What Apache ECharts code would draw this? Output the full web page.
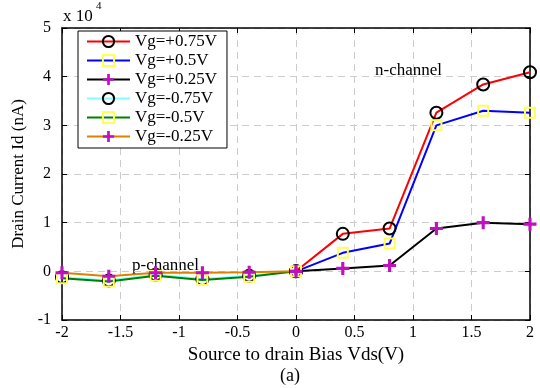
<!DOCTYPE html>
<html>
<head>
<meta charset="utf-8">
<script src="https://cdn.jsdelivr.net/npm/echarts@6/dist/echarts.min.js"></script>
<style>
  html, body { margin: 0; padding: 0; background: #fff; }
  #chart { width: 540px; height: 388px; }
</style>
</head>
<body>
<div id="chart"></div>
<script>
// Vds sweep points (V)
const vdsPos = [0, 0.4, 0.8, 1.2, 1.6, 2.0];
const vdsNeg = [-2.0, -1.6, -1.2, -0.8, -0.4, 0];

// drain current Id (nA)
const idP075 = [0, 7700, 8800, 32600, 38400, 40900];
const idP050 = [0, 3800, 5700, 30000, 33000, 32600];
const idP025 = [0, 600, 1200, 8800, 10000, 9700];
const idN075 = [-1200, -1900, -700, -1600, -900, 0];
const idN050 = [-1400, -2100, -900, -1800, -1100, 0];
const idN025 = [-300, -1000, -300, -300, -200, 0];

const serif = "Liberation Serif";

const plus = "path://M3.8,0H6.2V3.8H10V6.2H6.2V10H3.8V6.2H0V3.8H3.8Z";

function pairs(xs, ys) {
  return xs.map((x, i) => [x, ys[i] / 1e4]);
}

function makeSeries(name, xs, ys, color, symbol) {
  let marker = {};
  if (symbol === "circle") {
    marker = { symbol: "circle", symbolSize: 12,
      itemStyle: { color: "rgba(0,0,0,0)", borderColor: "#000", borderWidth: 2 } };
  } else if (symbol === "square") {
    marker = { symbol: "rect", symbolSize: 10,
      itemStyle: { color: "rgba(0,0,0,0)", borderColor: "#ffff55", borderWidth: 2 } };
  } else {
    marker = { symbol: plus, symbolSize: 13,
      itemStyle: { color: "#c010c0", borderWidth: 0 } };
  }
  return Object.assign({
    name: name,
    type: "line",
    data: pairs(xs, ys),
    showAllSymbol: true,
    lineStyle: { color: color, width: 2 },
    animation: false
  }, marker);
}

const axisLine = { onZero: false, show: true, lineStyle: { color: "#000", width: 1.5 } };
const axisTick = { show: true, inside: true, length: 5, lineStyle: { color: "#000" } };
const gridLine = { show: true, lineStyle: { color: "#cccccc", type: [7, 5] } };

const chart = echarts.init(document.getElementById("chart"));

chart.setOption({
  backgroundColor: "#fff",
  animation: false,
  grid: { left: 62, right: 10, top: 28, bottom: 68 },
  legend: {
    orient: "vertical",
    left: 78, top: 31,
    padding: [1, 10, 2, 8],
    itemGap: 0,
    itemWidth: 43,
    itemHeight: 14,
    backgroundColor: "#fff",
    borderColor: "#000",
    borderWidth: 1,
    borderRadius: 0,
    textStyle: { fontFamily: serif, fontSize: 17, lineHeight: 19, color: "#000" }
  },
  xAxis: [{
    type: "value", min: -2, max: 2, interval: 0.5,
    name: "Source to drain Bias Vds(V)",
    nameLocation: "middle", nameGap: 23,
    nameTextStyle: { fontFamily: serif, fontSize: 19, color: "#000" },
    axisLine: axisLine,
    axisTick: axisTick,
    axisLabel: { fontFamily: serif, fontSize: 16, color: "#000", margin: 5 },
    splitLine: gridLine
  }, {
    type: "value", min: -2, max: 2, interval: 0.5, position: "top",
    axisLine: axisLine,
    axisTick: axisTick,
    axisLabel: { show: false },
    splitLine: { show: false }
  }],
  yAxis: [{
    type: "value", min: -1, max: 5, interval: 1,
    name: "Drain Current Id (nA)",
    nameLocation: "middle", nameGap: 30,
    nameTextStyle: { fontFamily: serif, fontSize: 17, color: "#000" },
    axisLine: axisLine,
    axisTick: axisTick,
    axisLabel: { fontFamily: serif, fontSize: 16, color: "#000", margin: 11 },
    splitLine: gridLine
  }, {
    type: "value", min: -1, max: 5, interval: 1, position: "right",
    axisLine: axisLine,
    axisTick: axisTick,
    axisLabel: { show: false },
    splitLine: { show: false }
  }],
  graphic: [
    { type: "text", left: 63, top: 8,
      style: { text: "x 10", font: "17px " + serif, fill: "#000" } },
    { type: "text", left: 96, top: 1,
      style: { text: "4", font: "11px " + serif, fill: "#000" } },
    { type: "text", left: 375, top: 62,
      style: { text: "n-channel", font: "17px " + serif, fill: "#000" } },
    { type: "text", left: 132, top: 257,
      style: { text: "p-channel", font: "17px " + serif, fill: "#000" } },
    { type: "text", left: 280, top: 367,
      style: { text: "(a)", font: "18px " + serif, fill: "#000" } }
  ],
  series: [
    makeSeries("Vg=+0.75V", vdsPos, idP075, "#ff0000", "circle"),
    makeSeries("Vg=+0.5V", vdsPos, idP050, "#0000ff", "square"),
    makeSeries("Vg=+0.25V", vdsPos, idP025, "#000000", "plus"),
    makeSeries("Vg=-0.75V", vdsNeg, idN075, "#80ffff", "circle"),
    makeSeries("Vg=-0.5V", vdsNeg, idN050, "#008000", "square"),
    makeSeries("Vg=-0.25V", vdsNeg, idN025, "#e08000", "plus")
  ]
});
</script>
</body>
</html>
